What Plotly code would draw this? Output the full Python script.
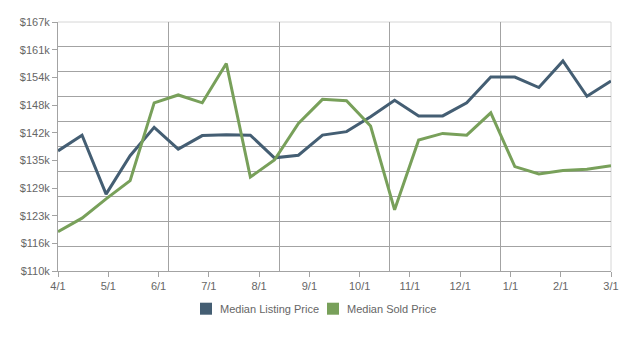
import plotly.graph_objects as go

# Semi-monthly observations, 4/1 through 3/1 (24 points)
point_index = list(range(24))
listing_price = [137.5, 141.1, 127.6, 136.4, 142.9, 137.9, 141.0, 141.2, 141.1, 135.9, 136.5, 141.1,
                 141.9, 145.3, 149.1, 145.5, 145.5, 148.5, 154.4, 154.4, 152.0, 158.1, 150.0, 153.5]
sold_price = [119.0, 122.1, 126.5, 130.7, 148.5, 150.3, 148.5, 157.5, 131.5, 135.4, 143.8, 149.3,
              149.0, 143.2, 124.0, 140.0, 141.5, 141.1, 146.2, 133.9, 132.2, 133.0, 133.3, 134.1]
listing_price = [v * 1000 for v in listing_price]
sold_price = [v * 1000 for v in sold_price]

series_names = ["Median Listing Price", "Median Sold Price"]
month_labels = ["4/1", "5/1", "6/1", "7/1", "8/1", "9/1", "10/1", "11/1", "12/1", "1/1", "2/1", "3/1"]
y_labels = ["$110k", "$116k", "$123k", "$129k", "$135k", "$142k", "$148k", "$154k", "$161k", "$167k"]
y_min, y_max = 110000, 167000

n = len(point_index) - 1
month_pos = [n * k / (len(month_labels) - 1) for k in range(len(month_labels))]
x_grid = [n * k / 5 for k in range(1, 5)]
y_tick_pos = [y_min + (y_max - y_min) * k / (len(y_labels) - 1) for k in range(len(y_labels))]
y_grid = [y_min + (y_max - y_min) * k / 10 for k in range(1, 10)]

BLUE = "#445e73"
GREEN = "#78a05a"
GRID = "#a3a3a3"
TXT = "#666666"

L, R, T, B = 58, 23, 22, 67
W, H = 634, 338
PW, PH = W - L - R, H - T - B


def px_x(p):
    return (p - L) / PW


def px_y(p):
    return (H - B - p) / PH


fig = go.Figure()
fig.add_trace(go.Scatter(x=point_index, y=listing_price, mode="lines", name=series_names[0],
                         line=dict(color=BLUE, width=3), showlegend=False))
fig.add_trace(go.Scatter(x=point_index, y=sold_price, mode="lines", name=series_names[1],
                         line=dict(color=GREEN, width=3), showlegend=False))

# manual legend (swatch + text), centred under chart
leg_y = 308.7
legend_items = [(200, 218, BLUE, series_names[0]), (327, 345, GREEN, series_names[1])]
shapes = [
    dict(type="line", xref="paper", yref="paper", x0=0, x1=1, y0=1, y1=1,
         line=dict(color="#d6d6d6", width=1), layer="below"),
    dict(type="line", xref="paper", yref="paper", x0=1, x1=1, y0=0, y1=1,
         line=dict(color="#d6d6d6", width=1), layer="below"),
]
annotations = []
for sx, tx, col, name in legend_items:
    shapes.append(dict(type="rect", xref="paper", yref="paper",
                       x0=px_x(sx), x1=px_x(sx + 12), y0=px_y(leg_y + 6), y1=px_y(leg_y - 6),
                       fillcolor=col, line=dict(width=0)))
    annotations.append(dict(xref="paper", yref="paper", x=px_x(tx), y=px_y(leg_y),
                            xanchor="left", yanchor="middle", text=name, showarrow=False,
                            font=dict(size=11, color=TXT)))

fig.update_layout(
    width=W, height=H,
    margin=dict(l=L, r=R, t=T, b=B),
    paper_bgcolor="white", plot_bgcolor="white",
    font=dict(family="Liberation Sans, Arial, sans-serif", size=11, color=TXT),
    showlegend=False,
    xaxis=dict(range=[0, n], tickvals=month_pos, ticktext=month_labels, showgrid=False,
               zeroline=False, showline=True, linecolor=GRID, linewidth=1,
               ticks="outside", ticklen=5, tickcolor=GRID,
               minor=dict(tickvals=x_grid, showgrid=True, gridcolor=GRID, gridwidth=1, ticks="")),
    yaxis=dict(range=[y_min, y_max], tickvals=y_tick_pos, ticktext=y_labels, showgrid=False,
               zeroline=False, showline=True, linecolor=GRID, linewidth=1,
               ticks="outside", ticklen=5, tickcolor=GRID,
               minor=dict(tickvals=y_grid, showgrid=True, gridcolor=GRID, gridwidth=1, ticks="")),
    shapes=shapes,
    annotations=annotations,
)

fig.write_html("out.html")
